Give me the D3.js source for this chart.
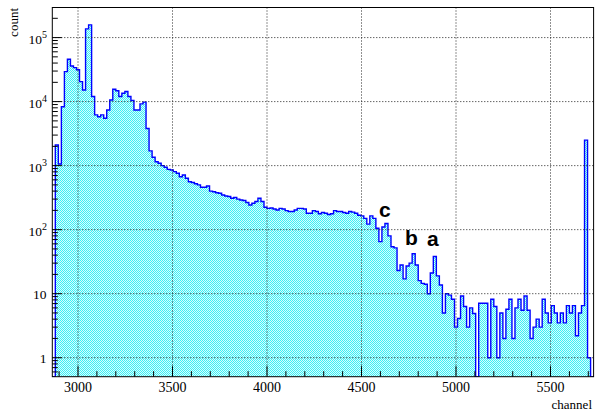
<!DOCTYPE html>
<html>
<head>
<meta charset="utf-8">
<script src="https://cdn.jsdelivr.net/npm/d3@7"></script>
<style>
  html, body { margin: 0; padding: 0; background: #fff; }
  svg { display: block; }
</style>
</head>
<body>
<svg id="chart" width="595" height="413"></svg>
<script>
// ---------------- data ----------------
const binStart = 2864;      // first bin low edge (channel)
const binWidth = 16;        // channels per bin
const counts = [
  0, 2100, 1060, 8300, 29400, 45800, 36000, 34000, 31500, 20500,
  15200, 137000, 158000, 12000, 6200, 5800, 6200, 5500, 7400, 10600,
  15600, 14800, 12000, 13500, 14400, 12000, 10400, 7400, 7400, 9200,
  9800, 3800, 1700, 1350, 1150, 1090, 1000, 945, 875, 855,
  805, 760, 670, 715, 635, 560, 545, 520, 500, 460,
  460, 480, 400, 390, 377, 370, 347, 335, 330, 310,
  318, 300, 290, 285, 265, 243, 258, 275, 310, 275,
  224, 215, 218, 210, 203, 215, 210, 198, 192, 192,
  203, 215, 215, 210, 180, 180, 198, 192, 177, 185,
  180, 172, 177, 198, 192, 192, 185, 180, 192, 188,
  180, 168, 164, 150, 122, 164, 150, 105, 65, 110,
  125, 80, 54, 52, 23, 28, 17, 27, 30, 42,
  28, 16, 14.5, 14, 10, 21, 38, 19, 13.7, 5,
  10, 9.5, 8.2, 3, 4.1, 9.2, 6.3, 3, 6, 4.9,
  0, 7.1, 7.1, 7.1, 1, 8.2, 6.3, 1, 5, 2,
  5.7, 8.2, 2, 6, 8.2, 5.5, 9.2, 5.5, 2, 3,
  4, 3, 8.2, 5, 3.5, 6.5, 5, 3.5, 5, 3.5,
  6.5, 5, 6.5, 2.2, 5, 6.5, 2500, 1, 0
];
const xTickValues = [3000, 3500, 4000, 4500, 5000, 5500];
const xTickLabels = ["3000", "3500", "4000", "4500", "5000", "5500"];
const yDecades = [1, 10, 100, 1000, 10000, 100000];
const yExponents = [0, 1, 2, 3, 4, 5];
const peakLabels = ["c", "b", "a"];
const peakChannels = [4592, 4730, 4847];   // where each letter sits (channel)
const peakHeights = [160, 58, 55];         // letter baseline level (counts)
const xTitle = "channel";
const yTitle = "count";

// ---------------- layout ----------------
const L = 52.3, R = 593.6, T = 7.5, B = 376.7;
const xMin = binStart, xMax = binStart + binWidth * counts.length;
const yMin = 0.505, yMax = 2.95e5;

const x = d3.scaleLinear().domain([xMin, xMax]).range([L, R]);
const y = d3.scaleLog().domain([yMin, yMax]).range([B, T]);

const svg = d3.select("#chart");
const defs = svg.append("defs");
const pat = defs.append("pattern")
  .attr("id", "dots").attr("patternUnits", "userSpaceOnUse")
  .attr("x", 0).attr("y", 0)
  .attr("width", 4).attr("height", 4);
pat.append("rect").attr("width", 4).attr("height", 4).attr("fill", "#dafcfd")
  .attr("shape-rendering", "crispEdges");
[[0,0],[2,0],[1,1],[3,1],[0,2],[2,2],[1,3],[3,3]].forEach(p => {
  pat.append("rect").attr("x", p[0]).attr("y", p[1]).attr("width", 1).attr("height", 1)
    .attr("fill", "#3ceff5").attr("shape-rendering", "crispEdges");
});

defs.append("clipPath").attr("id", "frameClip")
  .append("rect").attr("x", L).attr("y", T).attr("width", R - L).attr("height", B - T);

// step points
const pts = counts.map((c, i) => [binStart + i * binWidth, Math.max(c, yMin)]);
pts.push([xMax, Math.max(counts[counts.length - 1], yMin)]);

const g = svg.append("g").attr("clip-path", "url(#frameClip)");

const area = d3.area()
  .x(d => x(d[0])).y0(B).y1(d => y(d[1]))
  .curve(d3.curveStepAfter);
g.append("path").datum(pts).attr("d", area).attr("fill", "url(#dots)");

// grid
const gridG = svg.append("g");
xTickValues.forEach(v => {
  gridG.append("line").attr("x1", x(v)).attr("x2", x(v)).attr("y1", T).attr("y2", B)
    .attr("stroke", "#222").attr("stroke-width", 1).attr("stroke-dasharray", "1,2");
});
yDecades.forEach(v => {
  gridG.append("line").attr("x1", L).attr("x2", R).attr("y1", y(v)).attr("y2", y(v))
    .attr("stroke", "#222").attr("stroke-width", 1).attr("stroke-dasharray", "1,2");
});

// outline
const line = d3.line()
  .x(d => x(d[0])).y(d => y(d[1]))
  .curve(d3.curveStepAfter);
const outline = [[xMin, yMin]].concat(pts).concat([[xMax, yMin]]);
g.append("path").datum(outline).attr("d", line)
  .attr("fill", "none").attr("stroke", "#0000ff").attr("stroke-width", 1.4);

// frame
svg.append("rect").attr("x", L).attr("y", T).attr("width", R - L).attr("height", B - T)
  .attr("fill", "none").attr("stroke", "#000").attr("stroke-width", 1);

// x ticks
const axG = svg.append("g").attr("stroke", "#000").attr("stroke-width", 1);
for (let v = 2900; v <= 5700; v += 100) {
  const major = v % 500 === 0;
  axG.append("line").attr("x1", x(v)).attr("x2", x(v))
    .attr("y1", B).attr("y2", B - (major ? 10.5 : 5.5));
}
// y ticks (log)
for (let e = -1; e <= 5; e++) {
  for (let m = 1; m <= 9; m++) {
    const v = m * Math.pow(10, e);
    if (v < yMin || v > yMax) continue;
    const major = m === 1;
    axG.append("line").attr("x1", L).attr("x2", L + (major ? 9.5 : 5.5))
      .attr("y1", y(v)).attr("y2", y(v));
  }
}

// x labels
const font = "Liberation Serif, Times New Roman, serif";
xTickValues.forEach((v, i) => {
  svg.append("text").attr("x", x(v)).attr("y", 391.8)
    .attr("text-anchor", "middle").style("font-family", font).attr("font-size", 14)
    .attr("fill", "#000").text(xTickLabels[i]);
});
// y labels
yDecades.forEach((v, i) => {
  const e = yExponents[i];
  const t = svg.append("text").attr("text-anchor", "end")
    .style("font-family", font).attr("font-size", 13.5).attr("fill", "#000");
  if (e === 0) {
    t.attr("x", 46.5).attr("y", y(v) + 5.3).text("1");
  } else if (e === 1) {
    t.attr("x", 46.5).attr("y", y(v) + 5.3).text("10");
  } else {
    t.attr("x", 47).attr("y", y(v) + 6.4);
    t.append("tspan").text("10");
    t.append("tspan").attr("font-size", 10).attr("dy", -5.6).text(String(e));
  }
});

// titles
svg.append("text").attr("x", 592).attr("y", 408.5).attr("text-anchor", "end")
  .style("font-family", font).attr("font-size", 13).attr("fill", "#000").text(xTitle);
svg.append("text").attr("transform", "translate(17.5,8) rotate(-90)")
  .attr("text-anchor", "end")
  .style("font-family", font).attr("font-size", 13).attr("fill", "#000").text(yTitle);

// peak letters
peakLabels.forEach((s, i) => {
  svg.append("text").attr("x", x(peakChannels[i])).attr("y", y(peakHeights[i]))
    .style("font-family", "Liberation Sans, Arial, sans-serif").attr("font-weight", "bold")
    .attr("font-size", 21).attr("fill", "#000").text(s);
});
</script>
</body>
</html>
